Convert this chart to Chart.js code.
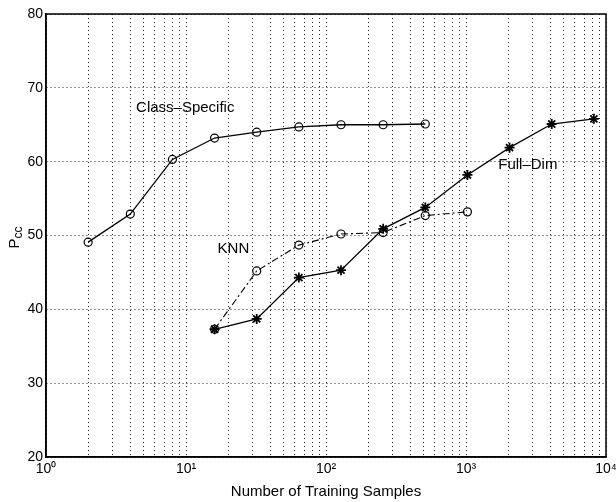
<!DOCTYPE html>
<html>
<head>
<meta charset="utf-8">
<script src="https://cdn.jsdelivr.net/npm/chart.js@4.4.1/dist/chart.umd.min.js"></script>
<style>
  html, body { margin: 0; padding: 0; background: #fff; }
  #wrap { position: relative; width: 616px; height: 502px; }
</style>
</head>
<body>
<div id="wrap"><canvas id="pccChart"></canvas></div>
<script>
// training sample counts (x) and Pcc values
const xClass = [2, 4, 8, 16, 32, 64, 128, 256, 512];
const classSpecific = [49.1, 52.9, 60.3, 63.2, 64.0, 64.7, 65.0, 65.0, 65.1];

const xKnn = [16, 32, 64, 128, 256, 512, 1024];
const knn = [37.3, 45.2, 48.7, 50.2, 50.4, 52.7, 53.2];

const xFull = [16, 32, 64, 128, 256, 512, 1024, 2048, 4096, 8192];
const fullDim = [37.3, 38.7, 44.3, 45.3, 50.9, 53.8, 58.2, 61.9, 65.1, 65.8];

const xMajorTicks = [1, 10, 100, 1000, 10000];
const xMajorLabels = ['10\u2070', '10\u00B9', '10\u00B2', '10\u00B3', '10\u2074'];
const yTicks = [20, 30, 40, 50, 60, 70, 80];

// in-plot labels, anchored in data coordinates
const seriesLabels = [
  { text: 'Class\u2013Specific', x: 4.4, y: 67.3 },
  { text: 'KNN', x: 16.8, y: 48.2 },
  { text: 'Full\u2013Dim', x: 1700, y: 59.6 }
];

// dotted grid at every log decade step
const xGridValues = [];
xMajorTicks.forEach(function (m, i) {
  if (i === xMajorTicks.length - 1) { xGridValues.push(m); return; }
  for (let k = 1; k <= 9; k++) xGridValues.push(m * k);
});

const pts = (xs, ys) => xs.map((x, i) => ({ x: x, y: ys[i] }));

const font = 'Liberation Sans, Arial, Helvetica, sans-serif';
const gridStyle = { color: '#222', lineWidth: 1, drawTicks: false };
const borderStyle = { display: true, color: '#000', width: 1.5, dash: [1, 3] };

const framePlugin = {
  id: 'frame',
  afterDraw(chart) {
    const ctx = chart.ctx, a = chart.chartArea;
    const xs = chart.scales.x, ys = chart.scales.y;
    ctx.save();
    ctx.strokeStyle = '#000';
    ctx.lineWidth = 1.5;
    ctx.setLineDash([]);
    ctx.strokeRect(a.left, a.top, a.right - a.left, a.bottom - a.top);

    ctx.fillStyle = '#000';
    ctx.font = '15px ' + font;
    ctx.textBaseline = 'middle';
    ctx.textAlign = 'left';
    seriesLabels.forEach(function (l) {
      ctx.fillText(l.text, xs.getPixelForValue(l.x), ys.getPixelForValue(l.y));
    });

    // y axis title: P with subscript cc
    ctx.translate(14, (a.top + a.bottom) / 2 + 2);
    ctx.rotate(-Math.PI / 2);
    ctx.textAlign = 'left';
    ctx.textBaseline = 'alphabetic';
    ctx.font = '15px ' + font;
    const pw = ctx.measureText('P').width;
    ctx.font = '12px ' + font;
    const cw = ctx.measureText('cc').width;
    const x0 = -(pw + cw) / 2;
    ctx.font = '15px ' + font;
    ctx.fillText('P', x0, 5);
    ctx.font = '12px ' + font;
    ctx.fillText('cc', x0 + pw, 8);
    ctx.restore();
  }
};

new Chart(document.getElementById('pccChart'), {
  type: 'line',
  data: {
    datasets: [
      {
        label: 'Class-Specific',
        data: pts(xClass, classSpecific),
        borderColor: '#000',
        borderWidth: 1.3,
        pointStyle: 'circle',
        pointRadius: 4,
        pointBorderWidth: 1.2,
        pointBorderColor: '#000',
        pointBackgroundColor: 'rgba(0,0,0,0)'
      },
      {
        label: 'KNN',
        data: pts(xKnn, knn),
        borderColor: '#000',
        borderWidth: 1.1,
        borderDash: [7, 3, 2, 3],
        pointStyle: 'circle',
        pointRadius: 4,
        pointBorderWidth: 1.2,
        pointBorderColor: '#000',
        pointBackgroundColor: 'rgba(0,0,0,0)'
      },
      {
        label: 'Full-Dim',
        data: pts(xFull, fullDim),
        borderColor: '#000',
        borderWidth: 1.3,
        pointStyle: 'star',
        pointRadius: 5,
        pointBorderWidth: 1.8,
        pointBorderColor: '#000',
        pointBackgroundColor: '#000'
      }
    ]
  },
  options: {
    responsive: true,
    maintainAspectRatio: false,
    animation: false,
    layout: { padding: { top: 14, right: 10, left: 0, bottom: 0 } },
    plugins: {
      legend: { display: false },
      tooltip: { enabled: false }
    },
    scales: {
      x: {
        type: 'logarithmic',
        min: 1,
        max: 10000,
        afterBuildTicks(scale) {
          scale.ticks = xGridValues.map(v => ({ value: v }));
        },
        afterFit(scale) {
          scale.height = 45;
          scale.paddingLeft = 0;
          scale.paddingRight = 0;
        },
        ticks: {
          autoSkip: false,
          maxRotation: 0,
          color: '#000',
          font: { family: font, size: 14 },
          padding: 4,
          callback: function (v) {
            const i = xMajorTicks.indexOf(v);
            return i >= 0 ? xMajorLabels[i] : '';
          }
        },
        grid: gridStyle,
        border: borderStyle,
        title: {
          display: true,
          text: 'Number of Training Samples',
          color: '#000',
          font: { family: font, size: 15 },
          padding: { top: 0, bottom: 1 }
        }
      },
      y: {
        min: 20,
        max: 80,
        afterBuildTicks(scale) {
          scale.ticks = yTicks.map(v => ({ value: v }));
        },
        afterFit(scale) {
          scale.width = 46;
        },
        ticks: {
          color: '#000',
          font: { family: font, size: 14 },
          padding: 3
        },
        grid: gridStyle,
        border: borderStyle
      }
    }
  },
  plugins: [framePlugin]
});
</script>
</body>
</html>
